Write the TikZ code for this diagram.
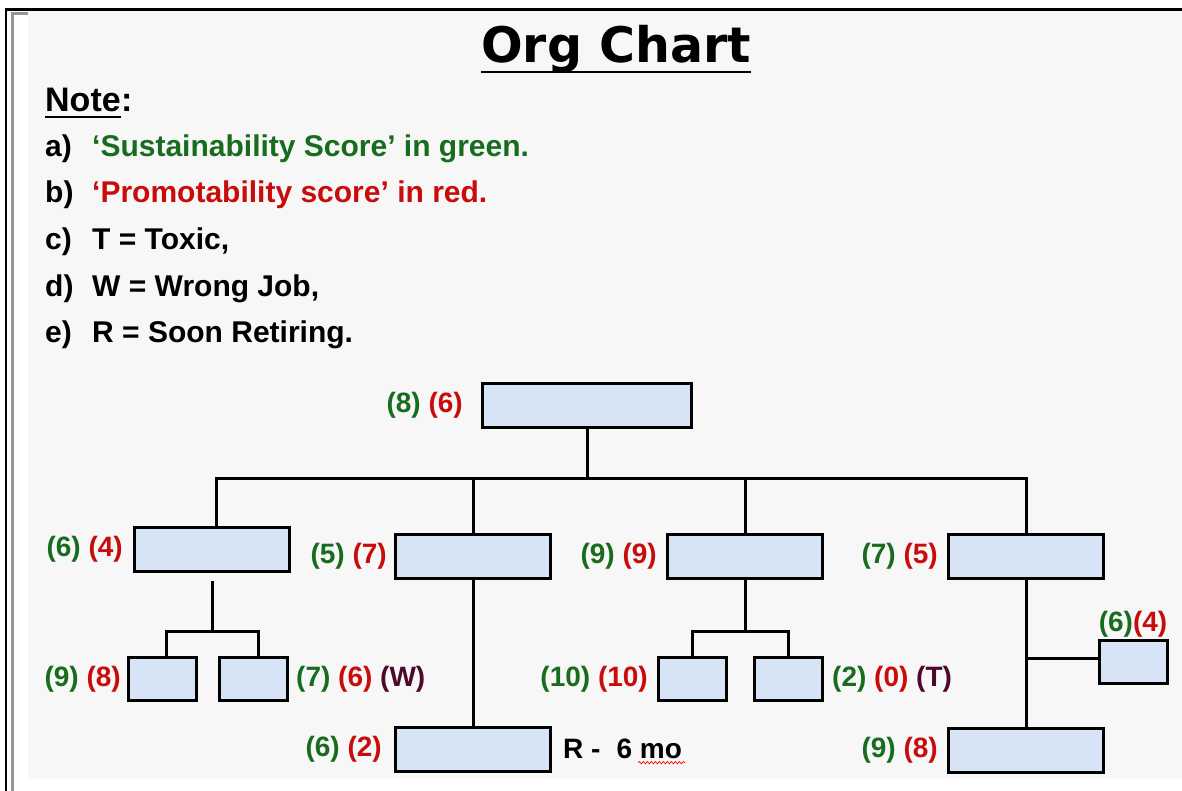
\documentclass[tikz,border=0pt]{standalone}
\usepackage{fontspec}
\setmainfont{Liberation Sans}
\newfontfamily\titlefont{DejaVu Sans}
\usetikzlibrary{positioning, calc, decorations.pathmorphing}

\definecolor{sgreen}{RGB}{24,108,30}
\definecolor{pred}{RGB}{200,12,12}
\definecolor{flagc}{RGB}{78,8,44}
\definecolor{boxfill}{RGB}{214,228,246}
\definecolor{slidebg}{RGB}{247,247,247}
\definecolor{rimgray}{RGB}{150,150,150}

\newcommand{\sus}[1]{\textcolor{sgreen}{(#1)}}
\newcommand{\pro}[1]{\textcolor{pred}{(#1)}}
\newcommand{\flag}[1]{\textcolor{flagc}{(#1)}}

\begin{document}
\begin{tikzpicture}[x=1pt, y=-1pt,
  box/.style={draw, line width=3pt, fill=boxfill, inner sep=0pt},
  wide/.style={box, minimum width=155pt, minimum height=44pt},
  small/.style={box, minimum width=68pt, minimum height=43pt},
  lbl/.style={font=\fontsize{28}{32}\selectfont\bfseries, inner sep=0pt},
  notetext/.style={font=\fontsize{30}{36}\selectfont\bfseries, inner sep=0pt, anchor=base west},
  link/.style={line width=3pt}]
\useasboundingbox (0,0) rectangle (1182,791);

% Slide frame
\fill[white] (0,0) rectangle (1182,791);
\fill[slidebg] (28,11) rectangle (1182,779);
\draw[line width=2.6pt] (6,791) -- (6,9.5) -- (1182,9.5);
\draw[rimgray, line width=3pt] (12,791) -- (12,14) -- (28,14);

% Title
\node[inner sep=0pt, anchor=base] (title) at (616,63)
  {\titlefont\fontsize{49}{56}\selectfont\bfseries Org Chart};
\draw[line width=2.5pt] ([yshift=-9pt]title.base west) -- ([yshift=-9pt]title.base east);

% Legend
\node[notetext, font=\fontsize{34}{40}\selectfont\bfseries] (note) at (45,112) {Note};
\node[notetext, font=\fontsize{34}{40}\selectfont\bfseries] (colon) at (note.base east) {:};
\draw[line width=2.2pt] ([yshift=-5pt]note.base west) -- ([yshift=-5pt]note.base east);
\foreach \tag/\txt/\yy in {a/{\textcolor{sgreen}{‘Sustainability Score’ in green.}}/157,
    b/{\textcolor{pred}{‘Promotability score’ in red.}}/203,
    c/{T = Toxic,}/250, d/{W = Wrong Job,}/297, e/{R = Soon Retiring.}/342} {
  \node[notetext] (tag-\tag) at (45,\yy) {\tag)};
  \node[notetext] (item-\tag) at (92,\yy) {\txt};
}

% Boxes
\node[box, minimum width=209pt, minimum height=44pt] (head) at (587,405.5) {};
\node[wide] (ua) at (212,549) {};
\node[wide] (ub) at (473,556.5) {};
\node[wide] (uc) at (745,556.5) {};
\node[wide] (ud) at (1026,556.5) {};
\node[small] (a1) at (162.5,679) {};
\node[small] (a2) at (253.5,679) {};
\node[small] (c1) at (692.5,679) {};
\node[small] (c2) at (788.5,679) {};
\node[small] (d1) at (1133,662) {};
\node[wide] (b1) at (473,749) {};
\node[wide] (d2) at (1026,750.5) {};

% Connectors
\draw[link] (head.south) -- ++(0,49) coordinate (bus);
\draw[link] ([xshift=4pt]ua.north) |- (bus) -| (ud.north);
\draw[link] (ub.north) -- (ub.north |- bus);
\draw[link] (uc.north) -- (uc.north |- bus);
\draw[link] ([yshift=-8pt]ua.south) -- ++(0,51) coordinate (ajoin);
\draw[link] ([xshift=4pt]a1.north) |- (ajoin) -| ([xshift=5pt]a2.north);
\draw[link] (uc.south) -- ++(0,51) coordinate (cjoin);
\draw[link] (c1.north) |- (cjoin) -| (c2.north);
\draw[link] (ub.south) -- (b1.north);
\draw[link] (ud.south) -- (d2.north);
\coordinate (dtap) at ([yshift=4pt]d1.west);
\draw[link] (dtap) -- (dtap -| ud.south);

% Scores
\node[lbl, left=18pt of head] (s-head) {\sus{8} \pro{6}};
\node[lbl, left=10pt of ua] (s-ua) {\sus{6} \pro{4}};
\node[lbl, left=7pt of ub] (s-ub) {\sus{5} \pro{7}};
\node[lbl, left=9pt of uc] (s-uc) {\sus{9} \pro{9}};
\node[lbl, left=9pt of ud] (s-ud) {\sus{7} \pro{5}};
\node[lbl, left=6pt of a1] (s-a1) {\sus{9} \pro{8}};
\node[lbl, right=7pt of a2] (s-a2) {\sus{7} \pro{6} \flag{W}};
\node[lbl, left=9pt of c1] (s-c1) {\sus{10} \pro{10}};
\node[lbl, right=8pt of c2] (s-c2) {\sus{2} \pro{0} \flag{T}};
\node[lbl, above=1pt of d1] (s-d1) {\sus{6}\pro{4}};
\node[lbl, left=12pt of b1] (s-b1) {\sus{6} \pro{2}};
\node[lbl, right=11pt of b1] (retire) {R -\hspace{16pt}6 mo};
\node[lbl, left=9pt of d2] (s-d2) {\sus{9} \pro{8}};
\draw[red, line width=0.7pt, decorate, decoration={snake, amplitude=1.2pt, segment length=4pt}]
  ([xshift=-44pt,yshift=-4pt]retire.base east) -- ([xshift=3pt,yshift=-4pt]retire.base east);
\end{tikzpicture}
\end{document}
